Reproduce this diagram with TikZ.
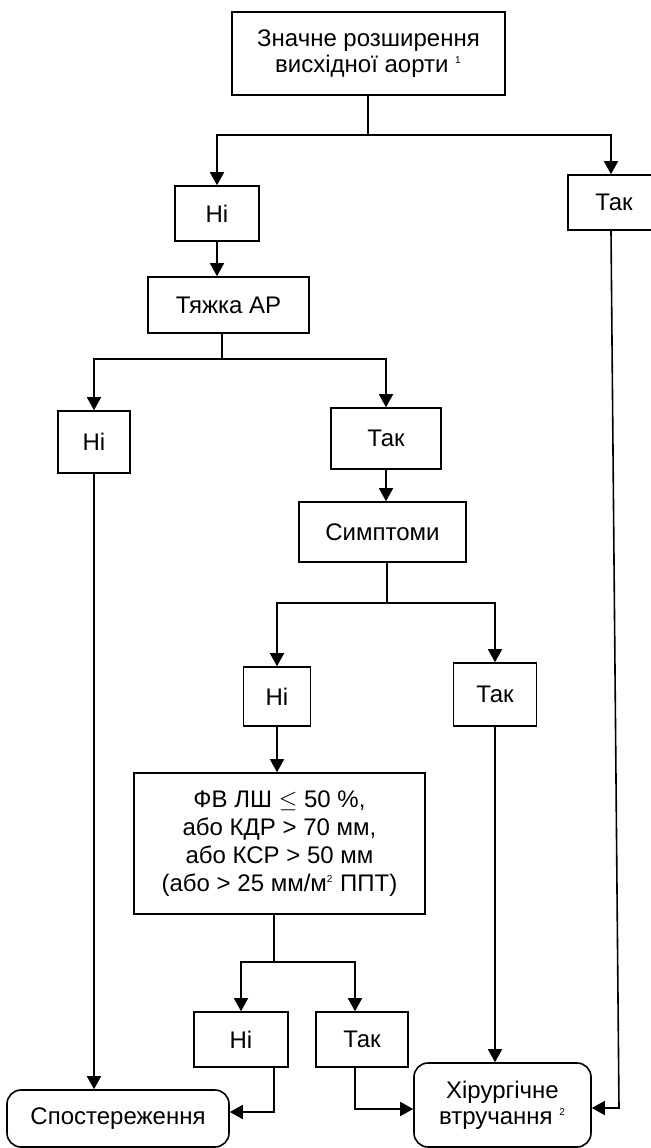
\documentclass[tikz,border=0pt]{standalone}
\usepackage{fontspec}
\setmainfont{Liberation Sans}
\usepackage{amsmath,amssymb}
\usetikzlibrary{arrows.meta,calc}

\newcommand{\supnote}[1]{\textsuperscript{\fontsize{5}{5}\selectfont #1}}

\begin{document}
\begin{tikzpicture}[x=0.5pt, y=-0.5pt,
        box/.style={draw, line width=0.8pt, inner sep=0pt, align=center,
            font=\fontsize{12}{13.2}\selectfont},
        endbox/.style={box, rounded corners=7pt},
        arr/.style={line width=0.8pt, -{Triangle[length=6.5pt,width=7pt]}},
        ln/.style={line width=0.8pt}]
        \useasboundingbox (0,0) rectangle (651,1148);

        % Вузли
        \node[box, minimum width=136.5pt, minimum height=41.5pt] (top) at (368.5,53.5)
            {Значне розширення\\висхідної аорти \supnote{1}};
        \node[box, minimum width=42pt, minimum height=27.5pt] (ni1) at (217,213.5) {Ні};
        \node[box, minimum width=46pt, minimum height=27.5pt] (tak1) at (614,202.5) {Так};
        \node[box, minimum width=80.5pt, minimum height=28pt] (ap) at (228.5,305) {Тяжка АР};
        \node[box, minimum width=36pt, minimum height=31pt] (ni2) at (94,442) {Ні};
        \node[box, minimum width=55pt, minimum height=30.5pt] (tak2) at (386,438.5) {Так};
        \node[box, minimum width=83.5pt, minimum height=30pt] (symp) at (382.5,532) {Симптоми};
        \node[box, minimum width=33.5pt, minimum height=29.5pt] (ni3) at (277,696.5) {Ні};
        \node[box, minimum width=41.5pt, minimum height=31.5pt] (tak3) at (495,694.5) {Так};
        \node[box, minimum width=145.5pt, minimum height=70.5pt,
            font=\fontsize{12}{14}\selectfont] (fv) at (279.5,843.5)
            {ФВ ЛШ $\leq$ 50 \%,\\або КДР > 70 мм,\\або КСР > 50 мм\\(або > 25 мм/м\supnote{2} ППТ)};
        \node[box, minimum width=47pt, minimum height=27.5pt] (ni4) at (241,1039.5) {Ні};
        \node[box, minimum width=46pt, minimum height=27.5pt] (tak4) at (362,1039.5) {Так};
        \node[endbox, minimum width=111pt, minimum height=28.5pt] (spost) at (118,1118.5) {Спостереження};
        \node[endbox, minimum width=88.5pt, minimum height=42pt] (xir) at (502.5,1105)
            {Хірургічне\\втручання \supnote{2}};

        % Розгалуження
        \coordinate (s1) at (368,135);
        \coordinate (s2) at (222,359);
        \coordinate (s3) at (387,603);
        \coordinate (s4) at (274,962);
        \coordinate (rt) at (619,1108);

        \draw[ln] (top.south -| s1) -- (s1);
        \draw[arr] (s1) -| (ni1.north);
        \draw[arr] (s1) -| ([xshift=-1.5pt]tak1.north);
        \draw[arr] (ni1.south) -- (ni1.south |- ap.north);

        \draw[ln] (s2 |- ap.south) -- (s2);
        \draw[arr] (s2) -| (ni2.north);
        \draw[arr] (s2) -| (tak2.north);
        \draw[arr] (tak2.south) -- (tak2.south |- symp.north);

        \draw[ln] (s3 |- symp.south) -- (s3);
        \draw[arr] (s3) -| (ni3.north);
        \draw[arr] (s3) -| (tak3.north);
        \draw[arr] (ni3.south) -- (ni3.south |- fv.north);

        \draw[ln] (s4 |- fv.south) -- (s4);
        \draw[arr] (s4) -| (ni4.north);
        \draw[arr] (s4) -| ([xshift=-3.5pt]tak4.north);

        % До висновків
        \draw[arr] (ni2.south) -- (ni2.south |- spost.north);
        \draw[arr] ([xshift=16.5pt]ni4.south) |- ([yshift=3.25pt]spost.east);
        \draw[arr] ([xshift=-3.5pt]tak4.south) |- ([yshift=-2pt]xir.west);
        \draw[arr] (tak3.south) -- (tak3.south |- xir.north);
        \draw[arr] ([xshift=-1.5pt]tak1.south) -- (rt) -- (rt -| xir.east);
    \end{tikzpicture}
\end{document}
